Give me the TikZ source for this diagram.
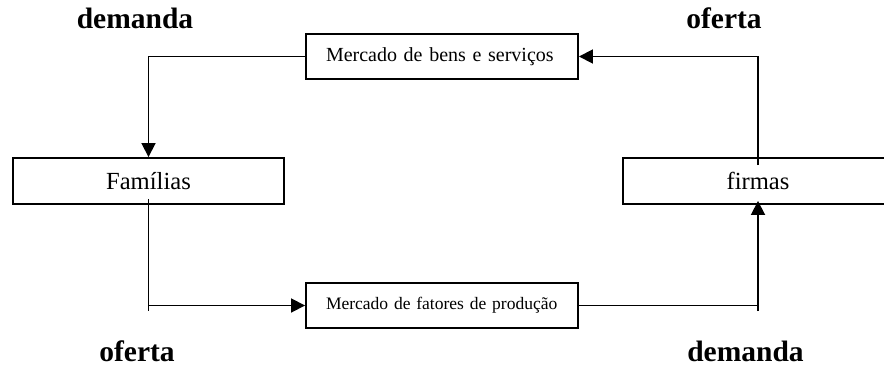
\documentclass[tikz,border=0pt]{standalone}
\usepackage{fontspec}
\setmainfont{Liberation Serif}
\usetikzlibrary{calc,arrows.meta}
\tikzset{
	caixa/.style={draw, line width=1.9pt, minimum height=45pt, inner sep=0pt},
	mercado/.style={caixa, text width=232pt, inner xsep=20pt, align=left},
	agente/.style={caixa, minimum height=46pt, font=\fontsize{24.6}{26}\selectfont},
	rotulo/.style={font=\fontsize{29.5}{30}\selectfont\bfseries, anchor=base, inner sep=0pt},
	fluxo/.style={line width=1.8pt},
	seta/.style={fluxo, -{Triangle[length=14pt,width=14pt]}}
}

\begin{document}
\begin{tikzpicture}[x=1pt, y=-1pt]
		%%%%% START %%%%%
		\useasboundingbox (0, 0) rectangle (884, 367);
		
		\node[mercado, font=\fontsize{20}{22}\selectfont] (bens) at (442, 56.5) {Mercado de bens e serviços};
		\node[mercado, font=\fontsize{17.5}{19}\selectfont] (fatores) at (442, 305.5) {Mercado de fatores de produção};
		
		\node[agente, minimum width=271pt] (familias) at (148.5, 181) {Famílias};
		\node[agente, minimum width=270pt] (firmas) at (758, 181) {firmas};
		
		\node[rotulo] (dembens) at (135, 28) {demanda};
		\node[rotulo] (ofebens) at (724, 28) {oferta};
		\node[rotulo] (ofefat) at (137, 361) {oferta};
		\node[rotulo] (demfat) at (745.5, 361) {demanda};
		
		\coordinate (pefam) at (148.5, 311);
		\coordinate (pefir) at (758, 311);
		
		\draw[seta] (bens.west) -| (familias.north);
		\draw[seta] ($(firmas.north)+(0, 8)$) |- (bens.east);
		
		\draw[fluxo] ($(familias.south)+(0, -6)$) -- (pefam);
		\draw[seta] (pefam |- fatores.west) -- (fatores.west);
		\draw[fluxo] (fatores.east) -| (pefir);
		\draw[seta] (pefir) -- ($(firmas.south)+(0, -4)$);
		
		%%%%% END %%%%%
\end{tikzpicture}
\end{document}
